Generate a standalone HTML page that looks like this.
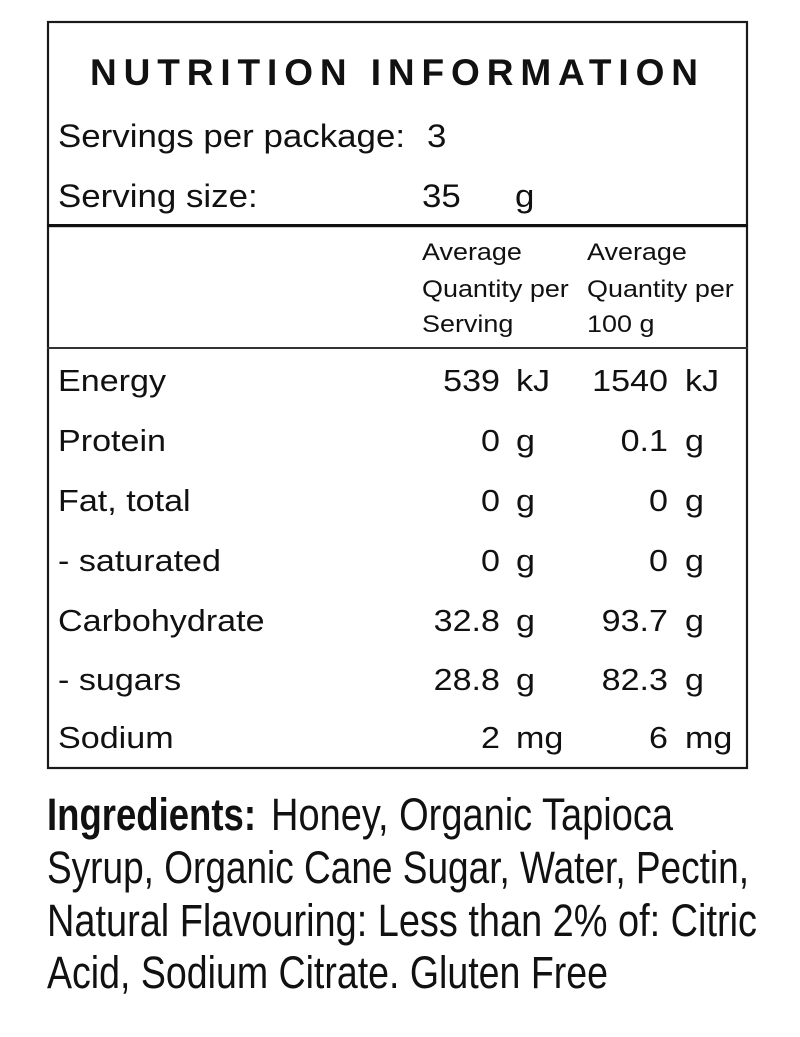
<!DOCTYPE html>
<html>
<head>
<meta charset="utf-8">
<style>
  html, body { margin: 0; padding: 0; background: #ffffff; }
  body { width: 800px; height: 1037px; overflow: hidden; }
  svg { display: block; }
  .t { font-family: "Liberation Sans", Arial, sans-serif; fill: #111; }
  .c { font-family: "Liberation Sans Narrow", "Liberation Sans", sans-serif; fill: #111; }
</style>
</head>
<body>
<svg width="800" height="1037" viewBox="0 0 800 1037" xmlns="http://www.w3.org/2000/svg">
  <rect x="0" y="0" width="800" height="1037" fill="#ffffff"/>
  <!-- outer box -->
  <rect x="48" y="22" width="699" height="746" fill="none" stroke="#1a1a1a" stroke-width="2.2"/>
  <!-- thick divider -->
  <rect x="47" y="224" width="701" height="3.2" fill="#111"/>
  <!-- thin divider -->
  <rect x="47" y="347" width="701" height="2" fill="#333"/>

  <!-- title -->
  <text class="t" x="90" y="85" font-size="37" font-weight="bold" textLength="608" lengthAdjust="spacing">NUTRITION INFORMATION</text>

  <!-- servings -->
  <text class="t" font-size="32" transform="translate(58,147) scale(1.09,1)">Servings per package:</text>
  <text class="t" font-size="32" transform="translate(427,147) scale(1.09,1)">3</text>
  <text class="t" font-size="32" transform="translate(58,207) scale(1.09,1)">Serving size:</text>
  <text class="t" font-size="32" transform="translate(422,207) scale(1.09,1)">35</text>
  <text class="t" font-size="32" transform="translate(515,207) scale(1.09,1)">g</text>

  <!-- header -->
  <text class="t" font-size="24.5" transform="translate(422,260) scale(1.1,1)">Average</text>
  <text class="t" font-size="24.5" transform="translate(422,297) scale(1.1,1)">Quantity per</text>
  <text class="t" font-size="24.5" transform="translate(422,332) scale(1.1,1)">Serving</text>
  <text class="t" font-size="24.5" transform="translate(587,260) scale(1.1,1)">Average</text>
  <text class="t" font-size="24.5" transform="translate(587,297) scale(1.1,1)">Quantity per</text>
  <text class="t" font-size="24.5" transform="translate(587,332) scale(1.1,1)">100 g</text>

  <!-- rows: labels -->
  <text class="t" font-size="31" transform="translate(58,391) scale(1.1,1)">Energy</text>
  <text class="t" font-size="31" transform="translate(58,451) scale(1.1,1)">Protein</text>
  <text class="t" font-size="31" transform="translate(58,511) scale(1.1,1)">Fat, total</text>
  <text class="t" font-size="31" transform="translate(58,571) scale(1.1,1)">- saturated</text>
  <text class="t" font-size="31" transform="translate(58,631) scale(1.1,1)">Carbohydrate</text>
  <text class="t" font-size="31" transform="translate(58,690) scale(1.1,1)">- sugars</text>
  <text class="t" font-size="31" transform="translate(58,748) scale(1.1,1)">Sodium</text>

  <!-- col1 numbers (right-aligned at 500) -->
  <g text-anchor="end">
    <text class="t" font-size="31" transform="translate(500,391) scale(1.1,1)">539</text>
    <text class="t" font-size="31" transform="translate(500,451) scale(1.1,1)">0</text>
    <text class="t" font-size="31" transform="translate(500,511) scale(1.1,1)">0</text>
    <text class="t" font-size="31" transform="translate(500,571) scale(1.1,1)">0</text>
    <text class="t" font-size="31" transform="translate(500,631) scale(1.1,1)">32.8</text>
    <text class="t" font-size="31" transform="translate(500,690) scale(1.1,1)">28.8</text>
    <text class="t" font-size="31" transform="translate(500,748) scale(1.1,1)">2</text>
    <!-- col2 numbers (right-aligned at 668) -->
    <text class="t" font-size="31" transform="translate(668,391) scale(1.1,1)">1540</text>
    <text class="t" font-size="31" transform="translate(668,451) scale(1.1,1)">0.1</text>
    <text class="t" font-size="31" transform="translate(668,511) scale(1.1,1)">0</text>
    <text class="t" font-size="31" transform="translate(668,571) scale(1.1,1)">0</text>
    <text class="t" font-size="31" transform="translate(668,631) scale(1.1,1)">93.7</text>
    <text class="t" font-size="31" transform="translate(668,690) scale(1.1,1)">82.3</text>
    <text class="t" font-size="31" transform="translate(668,748) scale(1.1,1)">6</text>
  </g>

  <!-- units col1 -->
  <text class="t" font-size="31" transform="translate(516,391) scale(1.1,1)">kJ</text>
  <text class="t" font-size="31" transform="translate(516,451) scale(1.1,1)">g</text>
  <text class="t" font-size="31" transform="translate(516,511) scale(1.1,1)">g</text>
  <text class="t" font-size="31" transform="translate(516,571) scale(1.1,1)">g</text>
  <text class="t" font-size="31" transform="translate(516,631) scale(1.1,1)">g</text>
  <text class="t" font-size="31" transform="translate(516,690) scale(1.1,1)">g</text>
  <text class="t" font-size="31" transform="translate(516,748) scale(1.1,1)">mg</text>
  <!-- units col2 -->
  <text class="t" font-size="31" transform="translate(685,391) scale(1.1,1)">kJ</text>
  <text class="t" font-size="31" transform="translate(685,451) scale(1.1,1)">g</text>
  <text class="t" font-size="31" transform="translate(685,511) scale(1.1,1)">g</text>
  <text class="t" font-size="31" transform="translate(685,571) scale(1.1,1)">g</text>
  <text class="t" font-size="31" transform="translate(685,631) scale(1.1,1)">g</text>
  <text class="t" font-size="31" transform="translate(685,690) scale(1.1,1)">g</text>
  <text class="t" font-size="31" transform="translate(685,748) scale(1.1,1)">mg</text>

  <!-- ingredients -->
  <text class="c" x="47" y="830" font-size="45" font-weight="bold" textLength="209" lengthAdjust="spacingAndGlyphs">Ingredients:</text>
  <text class="c" x="271" y="830" font-size="45" textLength="402" lengthAdjust="spacingAndGlyphs">Honey, Organic Tapioca</text>
  <text class="c" x="47" y="883" font-size="45" textLength="702" lengthAdjust="spacingAndGlyphs">Syrup, Organic Cane Sugar, Water, Pectin,</text>
  <text class="c" x="47" y="936" font-size="45" textLength="710" lengthAdjust="spacingAndGlyphs">Natural Flavouring: Less than 2% of: Citric</text>
  <text class="c" x="47" y="988" font-size="45" textLength="561" lengthAdjust="spacingAndGlyphs">Acid, Sodium Citrate. Gluten Free</text>
</svg>
</body>
</html>
